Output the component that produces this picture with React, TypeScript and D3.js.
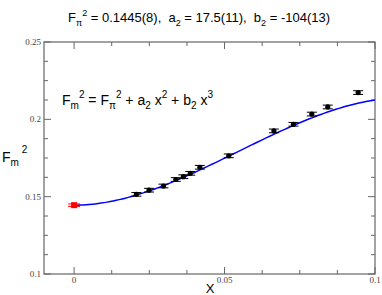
import React from "react";
import * as d3 from "d3";

const xVals = [0.0207, 0.0249, 0.0297, 0.0338, 0.0363, 0.0386, 0.0418, 0.0514, 0.0664, 0.0729, 0.079, 0.0843, 0.0944];
const yVals = [0.1515, 0.1542, 0.1569, 0.1611, 0.1629, 0.1651, 0.169, 0.1764, 0.1925, 0.1968, 0.2034, 0.208, 0.2173];
const yErrs = [0.0012, 0.0012, 0.0012, 0.0012, 0.0012, 0.0012, 0.0012, 0.0012, 0.0012, 0.0012, 0.0012, 0.0012, 0.0012];
const chiralX = [0];
const chiralY = [0.1445];
const chiralErr = [0.0008];
const fitParams = [0.1445, 17.5, -107];
const xTickVals = [0, 0.05, 0.1];
const xTickLabels = ["0", "0.05", "0.1"];
const yTickVals = [0.1, 0.15, 0.2, 0.25];
const yTickLabels = ["0.1", "0.15", "0.2", "0.25"];

export default function App() {
  const W = 382, H = 295;
  const L = 44, R = 375, T = 42, B = 274;
  const x = d3.scaleLinear().domain([-0.01, 0.1]).range([L, R]);
  const y = d3.scaleLinear().domain([0.1, 0.25]).range([B, T]);
  const minorX = d3.range(0, 0.1001, 0.0125).filter((v) => !xTickVals.some((t) => Math.abs(t - v) < 1e-6));
  const minorY = d3.range(0.1, 0.2501, 0.0125).filter((v) => !yTickVals.some((t) => Math.abs(t - v) < 1e-6));
  const fitXs = d3.range(0, 0.10001, 0.001);
  const line = d3.line<number>().x((v) => x(v)).y((v) => y(fitParams[0] + fitParams[1] * v * v + fitParams[2] * v * v * v));
  const sans = "'Liberation Sans', Arial, sans-serif";
  const serif = "'Liberation Serif', 'Times New Roman', serif";
  const axisCol = "#666";
  const M = 7, m = 4;
  return (
    <svg width={W} height={H} style={{ position: "absolute", left: 0, top: 0, background: "#fff" }}>
      <text x={68} y={22} fontFamily={sans} fontSize={13} fill="#000" style={{ whiteSpace: "pre" }}>
        <tspan>F</tspan>
        <tspan dy={4} fontSize={9}>π</tspan>
        <tspan dy={-10} fontSize={9}>2</tspan>
        <tspan dy={6}> = 0.1445(8),  a</tspan>
        <tspan dy={4} fontSize={9}>2</tspan>
        <tspan dy={-4}> = 17.5(11),  b</tspan>
        <tspan dy={4} fontSize={9}>2</tspan>
        <tspan dy={-4}> = -104(13)</tspan>
      </text>
      <text x={62} y={105} fontFamily={sans} fontSize={14} fill="#000" style={{ whiteSpace: "pre" }}>
        <tspan>F</tspan>
        <tspan dy={4} fontSize={10}>m</tspan>
        <tspan dy={-11} fontSize={10}>2</tspan>
        <tspan dy={7}> = F</tspan>
        <tspan dy={4} fontSize={10}>π</tspan>
        <tspan dy={-11} fontSize={10}>2</tspan>
        <tspan dy={7}> + a</tspan>
        <tspan dy={4} fontSize={10}>2</tspan>
        <tspan dy={-4}> x</tspan>
        <tspan dy={-7} fontSize={10}>2</tspan>
        <tspan dy={7}> + b</tspan>
        <tspan dy={4} fontSize={10}>2</tspan>
        <tspan dy={-4}> x</tspan>
        <tspan dy={-7} fontSize={10}>3</tspan>
      </text>
      <text x={2} y={162} fontFamily={sans} fontSize={14} fill="#000" style={{ whiteSpace: "pre" }}>
        <tspan>F</tspan>
        <tspan dy={4} fontSize={10}>m</tspan>
        <tspan dy={-13} fontSize={10}> 2</tspan>
      </text>
      <text x={210} y={293} fontFamily={sans} fontSize={13} textAnchor="middle" fill="#000">X</text>

      <rect x={L} y={T} width={R - L} height={B - T} fill="none" stroke={axisCol} strokeWidth={1.2} />
      {xTickVals.map((v, i) => (
        <g key={"xt" + i}>
          <line x1={x(v)} x2={x(v)} y1={B} y2={B - M} stroke={axisCol} />
          <line x1={x(v)} x2={x(v)} y1={T} y2={T + M} stroke={axisCol} />
          <text x={x(v)} y={283} fontFamily={serif} fontSize={9} fill="#444" textAnchor="middle">{xTickLabels[i]}</text>
        </g>
      ))}
      {minorX.map((v, i) => (
        <g key={"xm" + i}>
          <line x1={x(v)} x2={x(v)} y1={B} y2={B - m} stroke={axisCol} />
          <line x1={x(v)} x2={x(v)} y1={T} y2={T + m} stroke={axisCol} />
        </g>
      ))}
      {yTickVals.map((v, i) => (
        <g key={"yt" + i}>
          <line x1={L} x2={L + M} y1={y(v)} y2={y(v)} stroke={axisCol} />
          <line x1={R} x2={R - M} y1={y(v)} y2={y(v)} stroke={axisCol} />
          <text x={41} y={y(v) + 3} fontFamily={serif} fontSize={9} fill="#444" textAnchor="end">{yTickLabels[i]}</text>
        </g>
      ))}
      {minorY.map((v, i) => (
        <g key={"ym" + i}>
          <line x1={L} x2={L + m} y1={y(v)} y2={y(v)} stroke={axisCol} />
          <line x1={R} x2={R - m} y1={y(v)} y2={y(v)} stroke={axisCol} />
        </g>
      ))}

      <path d={line(fitXs) || ""} fill="none" stroke="#0000ff" strokeWidth={1.5} />

      {xVals.map((v, i) => (
        <g key={"p" + i}>
          <line x1={x(v)} x2={x(v)} y1={y(yVals[i] - yErrs[i])} y2={y(yVals[i] + yErrs[i])} stroke="#000" />
          <line x1={x(v) - 5} x2={x(v) + 5} y1={y(yVals[i] - yErrs[i])} y2={y(yVals[i] - yErrs[i])} stroke="#000" />
          <line x1={x(v) - 5} x2={x(v) + 5} y1={y(yVals[i] + yErrs[i])} y2={y(yVals[i] + yErrs[i])} stroke="#000" />
          <circle cx={x(v)} cy={y(yVals[i])} r={2.6} fill="#000" />
        </g>
      ))}
      {chiralX.map((v, i) => (
        <g key={"c" + i}>
          <line x1={x(v)} x2={x(v)} y1={y(chiralY[i] - chiralErr[i])} y2={y(chiralY[i] + chiralErr[i])} stroke="#ff0000" />
          <line x1={x(v) - 6} x2={x(v) + 6} y1={y(chiralY[i] - chiralErr[i])} y2={y(chiralY[i] - chiralErr[i])} stroke="#ff0000" />
          <line x1={x(v) - 6} x2={x(v) + 6} y1={y(chiralY[i] + chiralErr[i])} y2={y(chiralY[i] + chiralErr[i])} stroke="#ff0000" />
          <rect x={x(v) - 3} y={y(chiralY[i]) - 3} width={6} height={6} fill="#ff0000" />
        </g>
      ))}
    </svg>
  );
}
